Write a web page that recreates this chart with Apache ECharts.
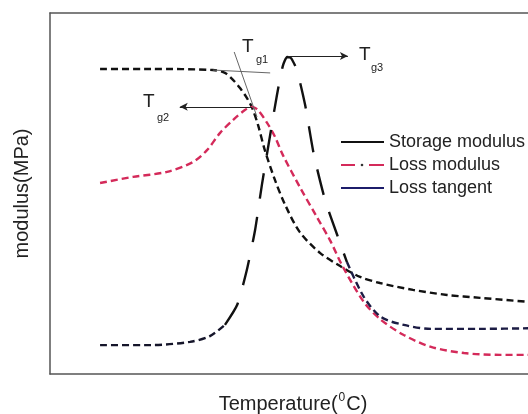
<!DOCTYPE html>
<html>
<head>
<meta charset="utf-8">
<script src="https://cdn.jsdelivr.net/npm/echarts@6/dist/echarts.min.js"></script>
<style>html,body{margin:0;padding:0;background:#fff}#c{width:528px;height:414px}</style>
</head>
<body>
<div id="c"></div>
<script>
// Normalised temperature (0-100) and modulus (0-100)
var storageX = [10.3, 20.6, 33.5, 36.0, 37.7, 39.1, 40.5, 41.6, 42.8, 44.2, 46.3, 48.4, 51.4, 55.6, 59.7, 63.8, 67.9, 74.7, 81.7, 88.5, 100];
var storageY = [84.5, 84.5, 84.2, 83.4, 81.4, 79.2, 76.5, 73.7, 69.0, 62.0, 53.7, 46.8, 39.3, 33.5, 29.9, 26.9, 25.2, 23.3, 21.9, 21.1, 19.8];

var lossX = [10.3, 17.1, 24.1, 29.4, 32.3, 35.0, 37.7, 40.1, 41.6, 42.8, 44.7, 46.3, 47.9, 51.4, 54.9, 57.6, 60.3, 64.6, 68.1, 72.8, 78.4, 85.2, 92.6, 100];
var lossY = [52.9, 54.6, 56.0, 58.7, 62.0, 66.8, 70.4, 73.1, 74.0, 73.1, 69.5, 65.7, 60.7, 51.8, 43.5, 37.1, 29.6, 19.9, 15.0, 10.8, 7.5, 5.8, 5.3, 5.3];

var tanX = [10.3, 20.6, 28.8, 32.9, 36.0, 38.5, 40.5, 42.2, 43.6, 45.3, 46.7, 47.9, 48.8, 49.6, 50.8, 52.5, 54.3, 56.6, 59.1, 61.1, 64.6, 68.1, 72.8, 78.4, 88.5, 100];
var tanY = [8.0, 8.0, 8.9, 10.5, 13.6, 19.1, 28.8, 39.9, 52.4, 66.2, 77.3, 85.3, 87.8, 87.5, 84.2, 74.5, 60.7, 48.2, 38.5, 31.0, 21.3, 15.8, 13.6, 12.5, 12.5, 12.7];
var tanSteepStart = 4, tanSteepEnd = 19;

var legendNames = ['Storage modulus', 'Loss modulus', 'Loss tangent'];
var tgLabels = ['g1', 'g2', 'g3'];

// annotation lines (data units)
var tg1Horizontal = [[33.5, 84.2], [45.3, 83.4]];
var tg1Tangent = [[37.9, 89.2], [42.6, 71.2]];
var tg2Arrow = [[41.6, 74.0], [26.7, 74.0]];
var tg3Arrow = [[49.0, 88.1], [61.3, 88.1]];

function pairs(xs, ys, a, b) {
  var out = [];
  for (var i = (a || 0); i < (b === undefined ? xs.length : b + 1); i++) out.push([xs[i], ys[i]]);
  return out;
}

var FONT = '"Liberation Sans", Arial, sans-serif';
var chart = echarts.init(document.getElementById('c'), null, {renderer: 'canvas'});

function ml(seg, arrowEnd) {
  return [{coord: seg[0], symbol: 'none'}, {coord: seg[1], symbol: arrowEnd ? 'arrow' : 'none', symbolSize: [6, 8]}];
}

var axisColor = '#555';
var option = {
  animation: false,
  backgroundColor: '#fff',
  grid: {left: 50, top: 13, right: -8, bottom: 40, outerBoundsMode: 'none', containLabel: false, show: false},
  xAxis: [{
    type: 'value', min: 0, max: 100, position: 'bottom',
    axisLine: {show: true, onZero: false, lineStyle: {color: axisColor, width: 1.5}},
    axisTick: {show: false}, axisLabel: {show: false}, splitLine: {show: false},
    name: '{a|Temperature(}{s|0}{a|C)}', nameLocation: 'middle', nameGap: 18,
    nameTextStyle: {
      verticalAlign: 'top',
      rich: {
        a: {fontFamily: FONT, fontSize: 20, color: '#222', lineHeight: 22, verticalAlign: 'bottom'},
        s: {fontFamily: FONT, fontSize: 12, color: '#222', lineHeight: 22, verticalAlign: 'top', padding: [0, 1, 0, 1]}
      }
    }
  }, {
    type: 'value', min: 0, max: 100, position: 'top',
    axisLine: {show: true, onZero: false, lineStyle: {color: axisColor, width: 1.5}},
    axisTick: {show: false}, axisLabel: {show: false}, splitLine: {show: false}
  }],
  yAxis: {
    type: 'value', min: 0, max: 100,
    axisLine: {show: true, onZero: false, lineStyle: {color: axisColor, width: 1.5}},
    axisTick: {show: false}, axisLabel: {show: false}, splitLine: {show: false},
    name: 'modulus(MPa)', nameLocation: 'middle', nameGap: 18,
    nameTextStyle: {fontFamily: FONT, fontSize: 20, color: '#222'}
  },
  series: [
    {
      type: 'line', name: legendNames[0], data: pairs(storageX, storageY), smooth: 0.3, symbol: 'none',
      lineStyle: {color: '#111', width: 2.4, type: [7, 4]},
      markLine: {
        silent: true, symbol: 'none', label: {show: false},
        lineStyle: {color: '#666', width: 1, type: 'solid'},
        data: [ml(tg1Horizontal, false), ml(tg1Tangent, false)]
      }
    },
    {
      type: 'line', name: legendNames[1], data: pairs(lossX, lossY), smooth: 0.3, symbol: 'none',
      lineStyle: {color: '#d42a5a', width: 2.4, type: [7, 4]},
      markLine: {
        silent: true, label: {show: false},
        lineStyle: {color: '#222', width: 1, type: 'solid'},
        data: [ml(tg2Arrow, true)]
      }
    },
    {
      type: 'line', name: legendNames[2], data: pairs(tanX, tanY, 0, tanSteepStart), smooth: 0.3, symbol: 'none',
      lineStyle: {color: '#15152a', width: 2.4, type: [7, 4]}
    },
    {
      type: 'line', name: legendNames[2] + ' ', data: pairs(tanX, tanY, tanSteepStart, tanSteepEnd), smooth: 0.2, symbol: 'none',
      lineStyle: {color: '#111', width: 2.4, type: [26, 18]},
      markLine: {
        silent: true, label: {show: false},
        lineStyle: {color: '#222', width: 1, type: 'solid'},
        data: [ml(tg3Arrow, true)]
      }
    },
    {
      type: 'line', name: legendNames[2] + '  ', data: pairs(tanX, tanY, tanSteepEnd), smooth: 0.3, symbol: 'none',
      lineStyle: {color: '#1c1c44', width: 2.4, type: [7, 4]}
    }
  ],
  graphic: [
    // legend
    {type: 'line', shape: {x1: 341, y1: 142, x2: 384, y2: 142}, style: {stroke: '#111', lineWidth: 2}},
    {type: 'text', x: 389, y: 142, style: {text: legendNames[0], font: '18px ' + FONT, fill: '#222', textVerticalAlign: 'middle'}},
    {type: 'line', shape: {x1: 341, y1: 165, x2: 355, y2: 165}, style: {stroke: '#d42a5a', lineWidth: 2}},
    {type: 'circle', shape: {cx: 362, cy: 165, r: 1.3}, style: {fill: '#333'}},
    {type: 'line', shape: {x1: 369, y1: 165, x2: 384, y2: 165}, style: {stroke: '#d42a5a', lineWidth: 2}},
    {type: 'text', x: 389, y: 165, style: {text: legendNames[1], font: '18px ' + FONT, fill: '#222', textVerticalAlign: 'middle'}},
    {type: 'line', shape: {x1: 341, y1: 188, x2: 384, y2: 188}, style: {stroke: '#1c1c6a', lineWidth: 2}},
    {type: 'text', x: 389, y: 188, style: {text: legendNames[2], font: '18px ' + FONT, fill: '#222', textVerticalAlign: 'middle'}},
    // Tg labels
    {type: 'text', x: 242, y: 47, style: {text: 'T', font: '19px ' + FONT, fill: '#222', textVerticalAlign: 'middle'}},
    {type: 'text', x: 256, y: 60, style: {text: tgLabels[0], font: '11px ' + FONT, fill: '#222', textVerticalAlign: 'middle'}},
    {type: 'text', x: 143, y: 102, style: {text: 'T', font: '19px ' + FONT, fill: '#222', textVerticalAlign: 'middle'}},
    {type: 'text', x: 157, y: 118, style: {text: tgLabels[1], font: '11px ' + FONT, fill: '#222', textVerticalAlign: 'middle'}},
    {type: 'text', x: 359, y: 55, style: {text: 'T', font: '19px ' + FONT, fill: '#222', textVerticalAlign: 'middle'}},
    {type: 'text', x: 371, y: 68, style: {text: tgLabels[2], font: '11px ' + FONT, fill: '#222', textVerticalAlign: 'middle'}}
  ]
};
chart.setOption(option);
</script>
</body>
</html>
